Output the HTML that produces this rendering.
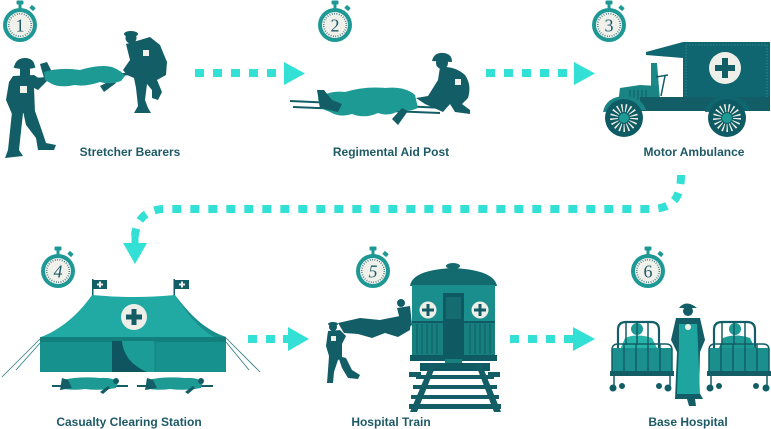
<!DOCTYPE html>
<html><head><meta charset="utf-8"><style>
html,body{margin:0;padding:0;background:#fff;}
svg{display:block;}
.lbl{font-family:"Liberation Sans",Arial,sans-serif;font-weight:bold;font-size:12px;fill:#1d5a66;text-anchor:middle;}
.num{font-family:"Liberation Serif",serif;font-size:18px;fill:#1d5a66;text-anchor:middle;}
</style></head><body>
<svg width="771" height="429" viewBox="0 0 771 429" xmlns="http://www.w3.org/2000/svg">
<defs>
<g id="sw">
 <rect x="-3.5" y="-24.5" width="7" height="4" rx="1" fill="#1e9894"/>
 <rect x="-1.5" y="-21" width="3" height="5" fill="#1e9894"/>
 <rect x="10" y="-19" width="5" height="4" transform="rotate(40 12.5 -17)" fill="#1e9894"/>
 <circle r="17" fill="#1e9894"/>
 <circle r="13" fill="#f1f1ec"/>
 <circle r="11.3" fill="none" stroke="#1d5a66" stroke-width="1.6" stroke-dasharray="0.7 1.67"/>
</g>
</defs>

<!-- stopwatches -->
<use href="#sw" x="20" y="25"/><text class="num" x="20" y="31.5">1</text>
<use href="#sw" x="335" y="25"/><text class="num" x="335" y="31.5">2</text>
<use href="#sw" x="609" y="25"/><text class="num" x="609" y="31.5">3</text>
<use href="#sw" x="58" y="271"/><text class="num" x="58" y="277.5" font-style="italic">4</text>
<use href="#sw" x="373" y="271"/><text class="num" x="373" y="277.5" font-style="italic">5</text>
<use href="#sw" x="648" y="271"/><text class="num" x="648" y="277.5">6</text>

<!-- arrows -->
<g fill="#33e0d5">
 <rect x="195" y="69" width="9" height="8"/><rect x="213" y="69" width="9" height="8"/><rect x="231" y="69" width="9" height="8"/><rect x="249" y="69" width="9" height="8"/><rect x="267" y="69" width="9" height="8"/>
 <polygon points="284,62 305,73.5 284,85"/>
 <rect x="486" y="69" width="9" height="8"/><rect x="504" y="69" width="9" height="8"/><rect x="522" y="69" width="9" height="8"/><rect x="540" y="69" width="9" height="8"/><rect x="558" y="69" width="9" height="8"/>
 <polygon points="574,62 595,73.5 574,85"/>
 <rect x="248" y="335" width="9" height="8"/><rect x="266" y="335" width="9" height="8"/><rect x="283" y="335" width="7" height="8"/>
 <polygon points="288,327 309,339 288,351"/>
 <rect x="510" y="335" width="9" height="8"/><rect x="528" y="335" width="9" height="8"/><rect x="546" y="335" width="9" height="8"/><rect x="564" y="335" width="9" height="8"/>
 <polygon points="573,327 595,339 573,351"/>
 <polygon points="123,243 147,243 135,264"/>
 <rect x="131.5" y="236" width="7" height="8"/>
</g>
<path d="M681 175 C681 200 671 209 650 209 L165 209 C146 209 136 220 135 236" fill="none" stroke="#33e0d5" stroke-width="8" stroke-dasharray="9 9"/>

<!-- Scene 1: stretcher bearers -->
<g fill="#135e66">
 <path d="M14 67 Q16 58 25 58 Q34 58 35 67 Z"/>
 <ellipse cx="24.5" cy="67" rx="11" ry="2"/>
 <rect x="20" y="67" width="10" height="9"/>
 <path d="M13 76 L34 75 L40 79 L46 76 L48 80 L38 90 L34 88 L35 112 L12 114 L6 100 L9 82 Z"/>
 <path d="M12 112 L23 113 L19 150 L23 156 L5 158 L8 150 Z"/>
 <path d="M23 111 L35 111 L42 131 L46 143 L56 145 L54 150 L38 150 L36 138 L26 125 Z"/>
 <path d="M40 64 L47 62 L52 72 L44 78 Z"/>
 <path d="M100 86 L112 80 L116 83 L104 92 Z"/>
 <ellipse cx="131" cy="34" rx="7" ry="3"/>
 <circle cx="131" cy="38" r="5.5"/>
 <path d="M126 44 L140 40 L150 37 L160 45 L167 62 L166 75 L157 80 L162 92 L158 100 L152 98 L152 90 L147 84 L145 100 L148 108 L151 113 L134 113 L138 106 L136 88 L134 78 L127 75 L123 70 L130 60 Z"/>
</g>
<line x1="36" y1="79" x2="128" y2="74" stroke="#135e66" stroke-width="2.5"/>
<path d="M44 72 Q60 67 80 70 Q100 64 112 67 Q122 71 125 76 L121 81 Q110 85 100 82 Q85 87 75 85 Q60 88 52 84 L45 80 Z" fill="#1e9a95"/>
<rect x="20" y="86" width="7" height="7" fill="#f1f1ec"/>
<rect x="143" y="50" width="6" height="6" fill="#f1f1ec"/>

<!-- Scene 2: aid post -->
<line x1="290" y1="101" x2="445" y2="108" stroke="#135e66" stroke-width="2"/>
<line x1="293" y1="107" x2="440" y2="113" stroke="#135e66" stroke-width="2"/>
<path d="M318 98 Q330 90 345 92 Q365 86 385 88 Q405 86 415 95 L418 108 Q410 112 400 110 Q390 117 378 113 Q365 119 352 114 Q340 118 330 112 L320 108 Z" fill="#1e9a95"/>
<g fill="#135e66">
 <path d="M317 90 L324 90 L332 100 L342 104 L338 112 L320 108 Z"/>
 <path d="M392 119 L402 108 L408 111 L398 125 Z"/>
 <path d="M432 61 Q434 52 444 53 Q452 54 452 62 Z"/>
 <circle cx="442" cy="63" r="6"/>
 <path d="M440 67 Q455 66 465 75 Q472 85 468 98 L462 104 L470 110 L470 114 L455 112 L450 104 L443 112 L425 104 L416 98 L428 96 L438 80 Z"/>
</g>
<rect x="455" y="79" width="6" height="6" fill="#f1f1ec"/>

<!-- Scene 3: ambulance -->
<polygon points="646,52 683,42 683,58 646,55" fill="#0f6570"/>
<rect x="683" y="42" width="87" height="60" fill="#0f6570"/>
<rect x="686" y="45" width="81" height="54" fill="none" stroke="#3a9297" stroke-width="0.8" stroke-dasharray="1.5 1.5"/>
<circle cx="725" cy="68" r="16" fill="#efefe9"/>
<rect x="722" y="58" width="6" height="20" fill="#135e66"/><rect x="715" y="65" width="20" height="6" fill="#135e66"/>
<polygon points="651,63 657,63 660,100 651,100" fill="#1a8a88"/>
<line x1="656" y1="77" x2="668" y2="75" stroke="#135e66" stroke-width="1.5"/>
<line x1="665" y1="76" x2="661" y2="96" stroke="#135e66" stroke-width="1.5"/>
<path d="M618 104 L620 88 L640 85 L658 86 L660 104 Z" fill="#1a8484"/>
<g stroke="#0f5b63" stroke-width="1"><line x1="630" y1="90" x2="630" y2="102"/><line x1="634" y1="90" x2="634" y2="102"/><line x1="638" y1="90" x2="638" y2="102"/><line x1="642" y1="90" x2="642" y2="102"/><line x1="646" y1="90" x2="646" y2="102"/></g>
<rect x="640" y="97" width="130" height="14" fill="#135e66"/>
<path d="M603 112 Q606 97 624 96 Q642 97 646 110 Z" fill="#1a8484"/>
<path d="M705 112 Q709 97 727 96 Q745 97 750 110 Z" fill="#0f6570"/>
<g>
 <circle cx="624" cy="118" r="19" fill="#0f5b63"/>
 <circle cx="624" cy="118" r="10" fill="none" stroke="#efefe9" stroke-width="8" stroke-dasharray="1.3 2.4"/>
 <circle cx="624" cy="118" r="5" fill="#1e9a95"/>
 <circle cx="727" cy="118" r="19" fill="#0f5b63"/>
 <circle cx="727" cy="118" r="10" fill="none" stroke="#efefe9" stroke-width="8" stroke-dasharray="1.3 2.4"/>
 <circle cx="727" cy="118" r="5" fill="#1e9a95"/>
</g>

<!-- Scene 4: tent -->
<g fill="#135e66">
 <rect x="92" y="279" width="1.5" height="18"/><rect x="93" y="280" width="14" height="9"/>
 <rect x="173.5" y="279" width="1.5" height="18"/><rect x="175" y="280" width="14" height="9"/>
</g>
<g fill="#efefe9"><rect x="99" y="281.5" width="2" height="6"/><rect x="97" y="283.5" width="6" height="2"/><rect x="181" y="281.5" width="2" height="6"/><rect x="179" y="283.5" width="6" height="2"/></g>
<path d="M92 295 Q134 299 175 295 C190 315 205 330 226 337 L41 337 C60 330 78 315 92 295 Z" fill="#21a9a3"/>
<path d="M175 295 C190 315 205 330 226 337 L214 337 C198 328 186 312 175 295 Z" fill="#1a8e8b"/>
<circle cx="134" cy="317" r="13" fill="#eeeee8"/>
<rect x="131.5" y="309" width="5" height="16" fill="#135e66"/><rect x="126" y="314.5" width="16" height="5" fill="#135e66"/>
<rect x="40" y="337" width="186" height="35" fill="#17918d"/>
<rect x="40" y="337" width="186" height="5" fill="#127f7d"/>
<path d="M112 341 L122 341 Q124 362 147 372 L112 372 Z" fill="#0e5560"/>
<path d="M122 341 L155 341 L155 372 L147 372 Q124 362 122 341 Z" fill="#1b9c97"/>
<line x1="155" y1="341" x2="155" y2="372" stroke="#127f7d" stroke-width="1"/>
<g stroke="#2a7a80" stroke-width="0.8">
 <line x1="41" y1="338" x2="2" y2="377"/><line x1="41" y1="342" x2="16" y2="370"/>
 <line x1="226" y1="338" x2="260" y2="372"/><line x1="226" y1="342" x2="249" y2="370"/>
</g>
<g>
 <line x1="52" y1="386" x2="128" y2="386" stroke="#135e66" stroke-width="2"/>
 <path d="M62 380 Q80 376 100 378 Q112 377 118 382 L116 388 Q100 391 85 389 Q70 391 62 388 Z" fill="#1e9a95"/>
 <path d="M62 378 L68 380 L72 388 L60 390 Z M100 392 L108 386 L110 388 L103 394 Z" fill="#135e66"/>
 <circle cx="116" cy="381" r="3" fill="#135e66"/>
 <line x1="137" y1="386" x2="213" y2="386" stroke="#135e66" stroke-width="2"/>
 <path d="M147 380 Q165 376 185 378 Q197 377 203 382 L201 388 Q185 391 170 389 Q155 391 147 388 Z" fill="#1e9a95"/>
 <path d="M147 378 L153 380 L157 388 L145 390 Z M185 392 L193 386 L195 388 L188 394 Z" fill="#135e66"/>
 <circle cx="201" cy="381" r="3" fill="#135e66"/>
</g>

<!-- Scene 5: train -->
<ellipse cx="453" cy="266" rx="7" ry="3" fill="#136b70"/>
<path d="M410 286 Q412 270 453 268 Q494 270 497 286 Z" fill="#136b70"/>
<rect x="412" y="285" width="83" height="70" fill="#1a8e8c"/>
<rect x="412" y="322" width="83" height="33" fill="#17807f"/>
<g stroke="#0f5b63" stroke-width="1">
 <line x1="417" y1="324" x2="417" y2="354"/><line x1="422" y1="324" x2="422" y2="354"/><line x1="427" y1="324" x2="427" y2="354"/><line x1="432" y1="324" x2="432" y2="354"/><line x1="437" y1="324" x2="437" y2="354"/>
 <line x1="470" y1="324" x2="470" y2="354"/><line x1="475" y1="324" x2="475" y2="354"/><line x1="480" y1="324" x2="480" y2="354"/><line x1="485" y1="324" x2="485" y2="354"/><line x1="490" y1="324" x2="490" y2="354"/>
</g>
<rect x="412" y="321" width="83" height="2" fill="#0f5b63"/>
<circle cx="428" cy="310" r="8.5" fill="#eeeee8"/><rect x="426.5" y="304" width="3" height="12" fill="#135e66"/><rect x="422" y="308.5" width="12" height="3" fill="#135e66"/>
<circle cx="480" cy="310" r="8.5" fill="#eeeee8"/><rect x="478.5" y="304" width="3" height="12" fill="#135e66"/><rect x="474" y="308.5" width="12" height="3" fill="#135e66"/>
<rect x="443" y="293" width="21" height="64" fill="#0f5a62"/>
<rect x="446" y="297" width="15" height="22" fill="#166b70"/>
<rect x="410" y="355" width="87" height="6" fill="#0f5b63"/>
<rect x="445" y="359" width="17" height="6" fill="#17807f"/>
<rect x="420" y="363" width="70" height="8" fill="#0f5b63"/>
<g fill="#135e66">
 <polygon points="430,365 436,365 417,412 410,412"/>
 <polygon points="476,365 482,365 501,412 494,412"/>
 <rect x="416" y="375" width="78" height="4"/>
 <rect x="413" y="385" width="84" height="4"/>
 <rect x="411" y="395" width="88" height="4"/>
 <rect x="409" y="404" width="92" height="5"/>
 <rect x="409" y="372" width="12" height="5"/><rect x="488" y="372" width="12" height="5"/>
</g>
<g fill="#135e66">
 <path d="M338 323 L360 318 L380 320 L400 316 L411 318 L410 330 L398 337 L385 333 L372 338 L358 334 L344 333 Z"/>
 <circle cx="401" cy="303" r="4"/>
 <path d="M397 308 L410 306 L412 325 L405 330 L400 320 Z"/>
 <ellipse cx="333" cy="324" rx="5" ry="2"/>
 <circle cx="333" cy="327" r="4"/>
 <path d="M328 331 L340 330 L346 336 L342 344 L342 358 L338 360 L334 372 L333 383 L327 383 L328 370 L329 356 L326 346 Z"/>
 <path d="M338 356 L346 358 L352 370 L360 375 L358 379 L348 378 L342 368 Z"/>
</g>
<rect x="331" y="336" width="5" height="5" fill="#efefe9"/>

<!-- Scene 6: base hospital -->
<g fill="none" stroke="#135e66" stroke-width="2.2">
 <path d="M618 350 L618 330 Q618 322 626 322 L651 322 Q659 322 659 330 L659 350"/>
 <path d="M714 350 L714 330 Q714 322 722 322 L747 322 Q755 322 755 330 L755 350"/>
</g>
<circle cx="637" cy="329" r="6" fill="#1e9a95"/>
<path d="M625 338 Q637 333 652 338 L658 350 L620 350 Z" fill="#27b5aa"/>
<circle cx="735" cy="329" r="6" fill="#1e9a95"/>
<path d="M723 338 Q735 333 750 338 L756 350 L718 350 Z" fill="#1e9a95"/>
<rect x="612" y="348" width="60" height="24" fill="#1b8f8d"/>
<rect x="709" y="348" width="60" height="24" fill="#1b8f8d"/>
<g stroke="#135e66" stroke-width="1.5" fill="none">
 <path d="M612 372 L612 350 Q612 344 618 344 L666 344 Q672 344 672 350 L672 372"/>
 <line x1="624" y1="344" x2="624" y2="372"/><line x1="636" y1="344" x2="636" y2="372"/><line x1="648" y1="344" x2="648" y2="372"/><line x1="660" y1="344" x2="660" y2="372"/>
 <line x1="626" y1="322" x2="626" y2="345"/><line x1="637" y1="322" x2="637" y2="345"/><line x1="648" y1="322" x2="648" y2="345"/>
 <path d="M709 372 L709 350 Q709 344 715 344 L763 344 Q769 344 769 350 L769 372"/>
 <line x1="721" y1="344" x2="721" y2="372"/><line x1="733" y1="344" x2="733" y2="372"/><line x1="745" y1="344" x2="745" y2="372"/><line x1="757" y1="344" x2="757" y2="372"/>
 <line x1="722" y1="322" x2="722" y2="345"/><line x1="734" y1="322" x2="734" y2="345"/><line x1="745" y1="322" x2="745" y2="345"/>
 <line x1="614" y1="372" x2="614" y2="386"/><line x1="670" y1="372" x2="670" y2="386"/>
 <line x1="711" y1="372" x2="711" y2="386"/><line x1="767" y1="372" x2="767" y2="386"/>
</g>
<rect x="610" y="371" width="64" height="5" fill="#135e66"/>
<rect x="707" y="371" width="64" height="5" fill="#135e66"/>
<g fill="#135e66">
 <circle cx="613" cy="388" r="3.5"/><circle cx="622" cy="386" r="3"/><circle cx="659" cy="386" r="3"/><circle cx="668" cy="388" r="3.5"/>
 <circle cx="710" cy="388" r="3.5"/><circle cx="719" cy="386" r="3"/><circle cx="756" cy="386" r="3"/><circle cx="766" cy="388" r="3.5"/>
</g>
<g fill="#135e66">
 <path d="M679 308 Q686 299 697 308 Z"/>
 <circle cx="688" cy="311" r="5"/>
 <path d="M676 318 L700 318 L705 340 L700 352 L699 392 L703 399 L695 399 L696 406 L689 406 L687 399 L675 399 L677 352 L671 340 Z"/>
</g>
<path d="M679 324 L697 324 L698 346 L700 394 L677 394 L679 346 Z" fill="#1fa59f"/>
<circle cx="688" cy="327" r="3" fill="#efefe9"/>

<!-- labels -->
<text class="lbl" x="130" y="156">Stretcher Bearers</text>
<text class="lbl" x="391" y="156">Regimental Aid Post</text>
<text class="lbl" x="694" y="156">Motor Ambulance</text>
<text class="lbl" x="129" y="426">Casualty Clearing Station</text>
<text class="lbl" x="391" y="426">Hospital Train</text>
<text class="lbl" x="688" y="426">Base Hospital</text>
</svg>
</body></html>
